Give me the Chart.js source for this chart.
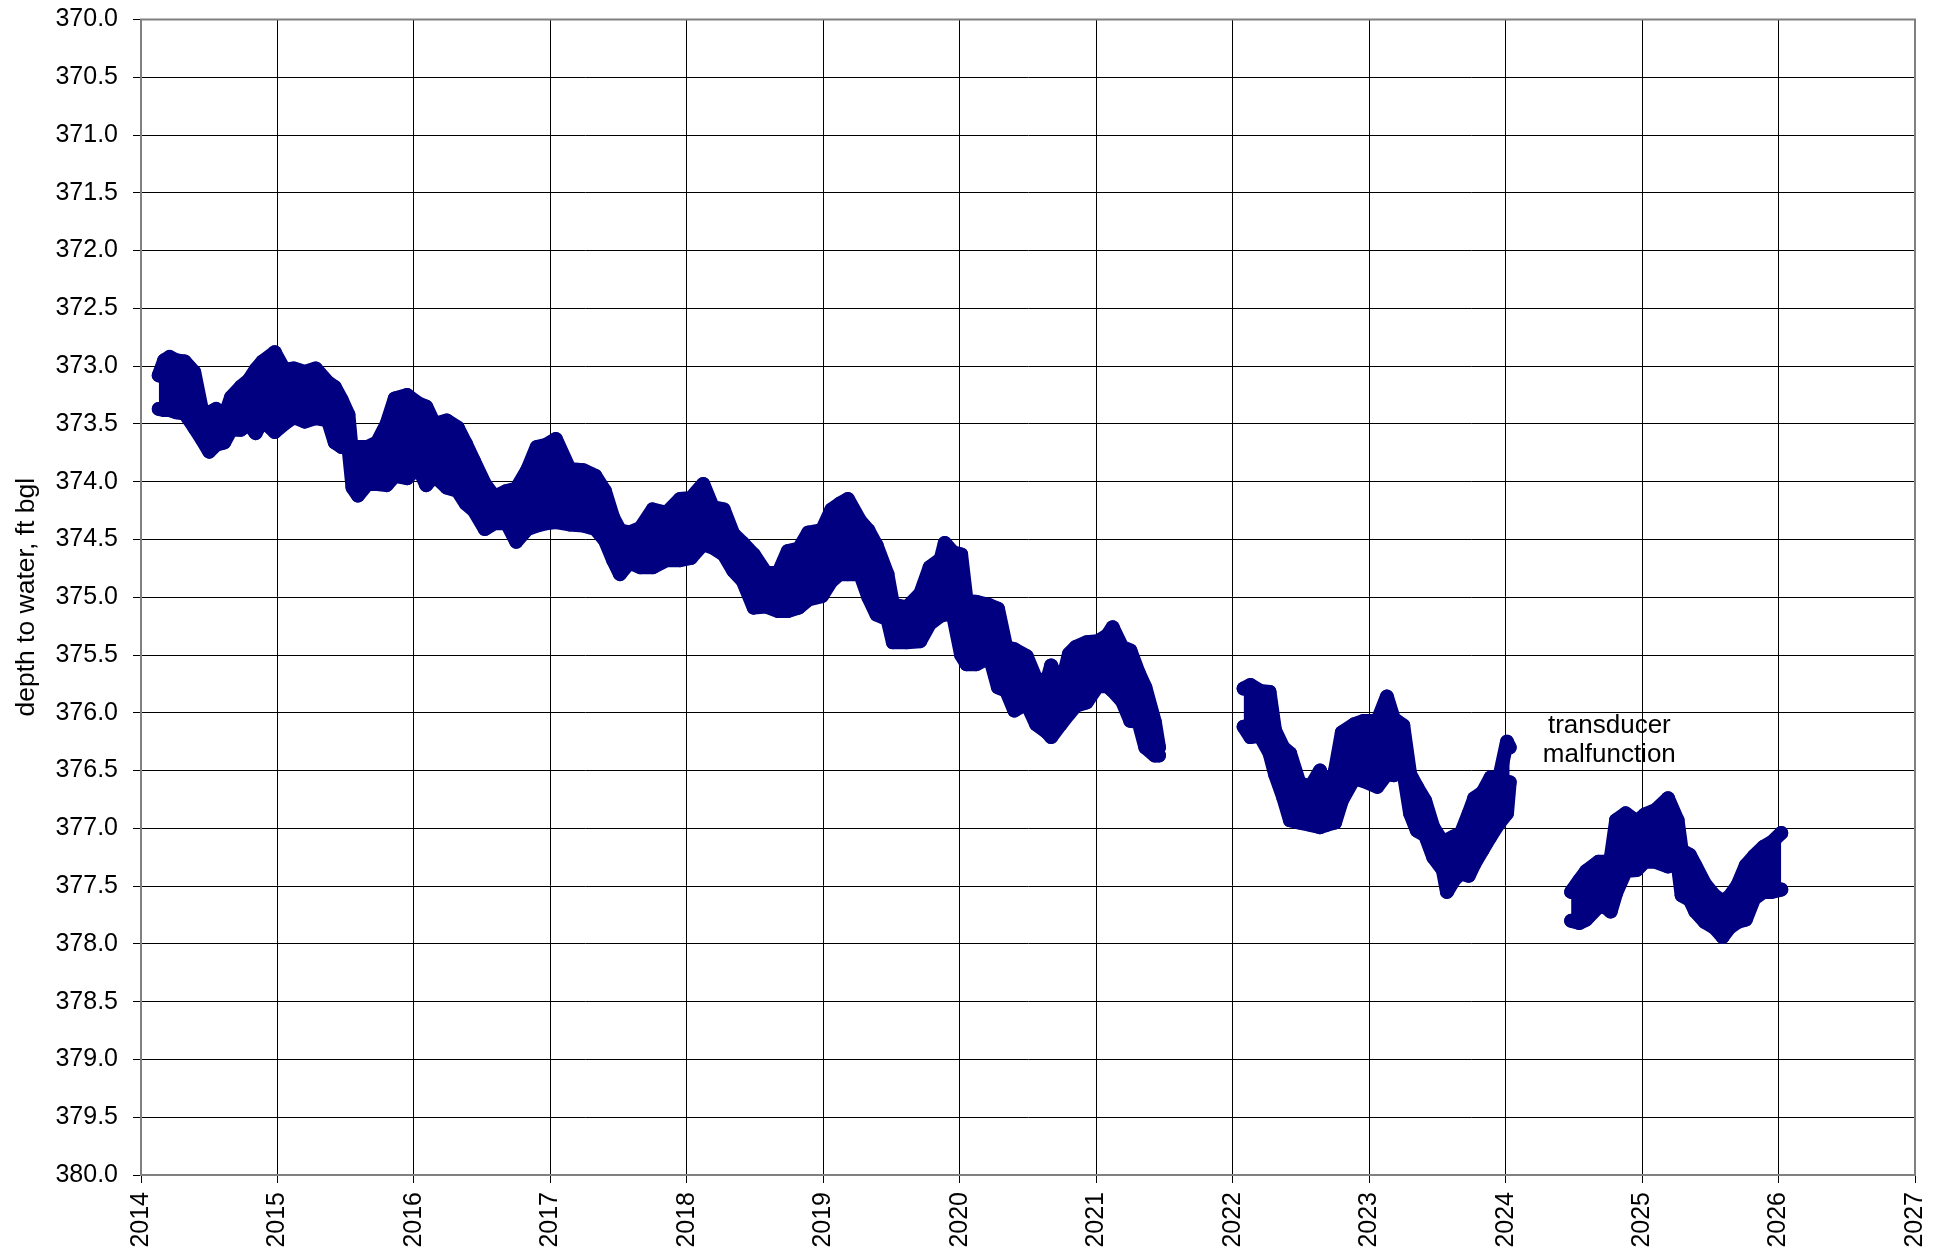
<!DOCTYPE html>
<html>
<head>
<meta charset="utf-8">
<script src="https://cdn.jsdelivr.net/npm/chart.js@4/dist/chart.umd.min.js"></script>
<style>
  html, body { margin: 0; padding: 0; background: #fff; }
  #wrap { width: 1944px; height: 1257px; }
</style>
</head>
<body>
<div id="wrap"><canvas id="c" width="1944" height="1257"></canvas></div>
<script>
// Decimal-year sample dates (null values mark data gaps)
const years = [
  2014.13, 2014.17, 2014.21, 2014.26, 2014.32, 2014.39, 2014.45, 2014.50, 2014.55, 2014.61,
  2014.66, 2014.73, 2014.79, 2014.84, 2014.89, 2014.98, 2015.05, 2015.12, 2015.20, 2015.28,
  2015.37, 2015.42, 2015.47, 2015.52, 2015.55, 2015.59, 2015.66, 2015.73, 2015.80, 2015.86,
  2015.95, 2016.03, 2016.09, 2016.15, 2016.24, 2016.32, 2016.38, 2016.44, 2016.52, 2016.59,
  2016.68, 2016.75, 2016.83, 2016.90, 2016.97, 2017.04, 2017.14, 2017.24, 2017.33, 2017.40,
  2017.46, 2017.51, 2017.58, 2017.66, 2017.75, 2017.85, 2017.95, 2018.03, 2018.12, 2018.19,
  2018.27, 2018.34, 2018.41, 2018.49, 2018.58, 2018.67, 2018.74, 2018.82, 2018.89, 2018.99,
  2019.06, 2019.12, 2019.18, 2019.27, 2019.33, 2019.39, 2019.47, 2019.51, 2019.61, 2019.71,
  2019.78, 2019.86, 2019.89, 2019.95, 2020.01, 2020.05, 2020.12, 2020.22, 2020.28, 2020.34,
  2020.40, 2020.49, 2020.56, 2020.64, 2020.67, 2020.74, 2020.80, 2020.85, 2020.93, 2021.01,
  2021.08, 2021.12, 2021.19, 2021.25, 2021.31, 2021.36, 2021.43, 2021.46,
  2021.75,
  2022.08, 2022.13, 2022.20, 2022.27, 2022.31, 2022.37, 2022.42, 2022.49, 2022.57, 2022.64,
  2022.69, 2022.75, 2022.80, 2022.89, 2022.96, 2023.06, 2023.13, 2023.18, 2023.25, 2023.30,
  2023.35, 2023.41, 2023.47, 2023.54, 2023.57, 2023.62, 2023.67, 2023.73, 2023.77, 2023.83,
  2023.89, 2023.95, 2024.01, 2024.03,
  2024.25,
  2024.48, 2024.54, 2024.59, 2024.68, 2024.73, 2024.77, 2024.81, 2024.88, 2024.96, 2025.02,
  2025.10, 2025.19, 2025.26, 2025.29, 2025.35, 2025.39, 2025.46, 2025.53, 2025.59, 2025.64,
  2025.70, 2025.76, 2025.82, 2025.89, 2025.95, 2026.02
];
// Shallowest reading in each sample window (ft bgl)
const shallow = [
  373.08, 372.95, 372.92, 372.95, 372.96, 373.05, 373.40, 373.40, 373.37, 373.44,
  373.27, 373.18, 373.12, 373.03, 372.96, 372.88, 373.03, 373.02, 373.05, 373.02,
  373.14, 373.18, 373.29, 373.42, 373.80, 373.70, 373.70, 373.66, 373.50, 373.28,
  373.25, 373.32, 373.35, 373.50, 373.47, 373.53, 373.67, 373.82, 374.02, 374.13,
  374.08, 374.06, 373.90, 373.70, 373.68, 373.63, 373.89, 373.90, 373.95, 374.08,
  374.31, 374.42, 374.44, 374.40, 374.24, 374.27, 374.15, 374.14, 374.02, 374.22,
  374.24, 374.45, 374.53, 374.63, 374.79, 374.79, 374.60, 374.58, 374.44, 374.42,
  374.24, 374.19, 374.15, 374.34, 374.42, 374.55, 374.80, 375.06, 375.09, 374.97,
  374.74, 374.67, 374.53, 374.61, 374.63, 375.03, 375.04, 375.07, 375.10, 375.43,
  375.45, 375.51, 375.71, 375.72, 375.59, 375.78, 375.49, 375.43, 375.39, 375.38,
  375.33, 375.26, 375.43, 375.46, 375.65, 375.78, 376.08, 376.30,
  null,
  375.79, 375.76, 375.81, 375.82, 376.15, 376.30, 376.35, 376.61, 376.64, 376.50,
  376.73, 376.50, 376.17, 376.10, 376.07, 376.07, 375.86, 376.05, 376.11, 376.53,
  376.64, 376.76, 376.99, 377.12, 377.10, 377.07, 377.05, 376.87, 376.74, 376.69,
  376.56, 376.58, 376.25, 376.30,
  null,
  377.55, 377.45, 377.37, 377.29, 377.29, 377.26, 376.93, 376.87, 376.94, 376.88,
  376.84, 376.74, 376.93, 377.19, 377.23, 377.32, 377.48, 377.58, 377.63, 377.59,
  377.49, 377.32, 377.24, 377.16, 377.12, 377.04
];
// Deepest reading in each sample window (ft bgl)
const deep = [
  373.37, 373.38, 373.38, 373.40, 373.41, 373.53, 373.64, 373.74, 373.68, 373.66,
  373.55, 373.55, 373.50, 373.58, 373.47, 373.57, 373.50, 373.44, 373.48, 373.45,
  373.47, 373.66, 373.70, 373.70, 374.05, 374.12, 374.02, 374.02, 374.03, 373.95,
  373.97, 373.87, 374.03, 373.95, 374.05, 374.08, 374.19, 374.25, 374.41, 374.36,
  374.36, 374.52, 374.41, 374.38, 374.36, 374.35, 374.37, 374.38, 374.41, 374.51,
  374.68, 374.80, 374.70, 374.74, 374.74, 374.68, 374.68, 374.66, 374.54, 374.57,
  374.63, 374.77, 374.86, 375.09, 375.08, 375.12, 375.12, 375.09, 375.02, 374.99,
  374.86, 374.80, 374.80, 374.80, 375.00, 375.15, 375.19, 375.39, 375.39, 375.38,
  375.23, 375.16, 375.15, 375.15, 375.50, 375.58, 375.58, 375.52, 375.78, 375.81,
  375.98, 375.92, 376.10, 376.17, 376.21, 376.10, 376.01, 375.94, 375.91, 375.77,
  375.77, 375.81, 375.90, 376.07, 376.08, 376.30, 376.37, 376.37,
  null,
  376.12, 376.21, 376.20, 376.35, 376.53, 376.73, 376.93, 376.95, 376.97, 376.99,
  376.97, 376.95, 376.76, 376.57, 376.59, 376.64, 376.53, 376.54, 376.50, 376.87,
  377.02, 377.06, 377.25, 377.36, 377.55, 377.45, 377.39, 377.41, 377.31, 377.19,
  377.07, 376.96, 376.87, 376.60,
  null,
  377.80, 377.82, 377.79, 377.68, 377.68, 377.72, 377.56, 377.37, 377.36, 377.29,
  377.29, 377.33, 377.30, 377.58, 377.62, 377.72, 377.81, 377.86, 377.94, 377.86,
  377.81, 377.79, 377.61, 377.55, 377.55, 377.53
];
const xTickYears = [2014, 2015, 2016, 2017, 2018, 2019, 2020, 2021, 2022, 2023, 2024, 2025, 2026, 2027];
const yTitle = 'depth to water, ft bgl';
const noteLines = ['transducer', 'malfunction'];
const noteYear = 2024.76;
const noteDepths = [376.11, 376.36];

const shallowPts = years.map((yr, i) => ({ x: yr, y: shallow[i] }));
const deepPts = years.map((yr, i) => ({ x: yr, y: deep[i] }));

const FONT = "'Liberation Sans', Arial, sans-serif";
const NAVY = '#000080';

const bandStyle = {
  showLine: true,
  spanGaps: false,
  borderColor: NAVY,
  backgroundColor: NAVY,
  borderWidth: 14,
  borderJoinStyle: 'round',
  borderCapStyle: 'round',
  pointRadius: 7,
  pointBorderWidth: 0,
  pointBackgroundColor: NAVY,
  pointHoverRadius: 7,
  tension: 0
};

const framePlugin = {
  id: 'frame',
  afterDraw(chart) {
    const { ctx, chartArea: a, scales } = chart;
    ctx.save();
    ctx.strokeStyle = '#808080';
    ctx.lineWidth = 2;
    ctx.strokeRect(a.left, a.top, a.right - a.left, a.bottom - a.top);
    ctx.fillStyle = '#000';
    ctx.font = '26px ' + FONT;
    ctx.textAlign = 'center';
    ctx.textBaseline = 'middle';
    const px = scales.x.getPixelForValue(noteYear);
    noteLines.forEach((t, i) => {
      ctx.fillText(t, px, scales.y.getPixelForValue(noteDepths[i]));
    });
    ctx.restore();
  }
};

function noScalePadding(scale) {
  scale.paddingTop = 0; scale.paddingBottom = 0;
  scale.paddingLeft = 0; scale.paddingRight = 0;
}

new Chart(document.getElementById('c'), {
  type: 'scatter',
  data: {
    datasets: [
      Object.assign({ data: shallowPts, fill: false }, bandStyle),
      Object.assign({ data: deepPts, fill: '-1' }, bandStyle)
    ]
  },
  options: {
    responsive: false,
    animation: false,
    devicePixelRatio: 1,
    layout: { padding: { left: 0, top: 19.5, right: 29, bottom: 0 } },
    plugins: { legend: { display: false }, tooltip: { enabled: false } },
    scales: {
      x: {
        type: 'linear',
        min: 2014, max: 2027,
        afterBuildTicks(scale) { scale.ticks = xTickYears.map(v => ({ value: v })); },
        afterFit(scale) { scale.height = 82; noScalePadding(scale); },
        grid: { color: '#000', lineWidth: 1, tickLength: 8, drawTicks: true },
        border: { display: true, color: '#808080', width: 2 },
        ticks: {
          autoSkip: false,
          minRotation: 90, maxRotation: 90,
          padding: 9,
          color: '#000',
          font: { family: FONT, size: 25 },
          callback: v => String(v)
        }
      },
      y: {
        type: 'linear',
        min: 370, max: 380,
        reverse: true,
        afterFit(scale) { scale.width = 141; noScalePadding(scale); },
        grid: { color: '#000', lineWidth: 1, tickLength: 8, drawTicks: true },
        border: { display: true, color: '#808080', width: 2 },
        ticks: {
          stepSize: 0.5,
          padding: 15,
          color: '#000',
          font: { family: FONT, size: 25 },
          callback: v => Number(v).toFixed(1)
        },
        title: {
          display: true,
          text: yTitle,
          color: '#000',
          font: { family: FONT, size: 26.5 },
          padding: { top: 11, bottom: 0 }
        }
      }
    }
  },
  plugins: [framePlugin]
});
</script>
</body>
</html>
